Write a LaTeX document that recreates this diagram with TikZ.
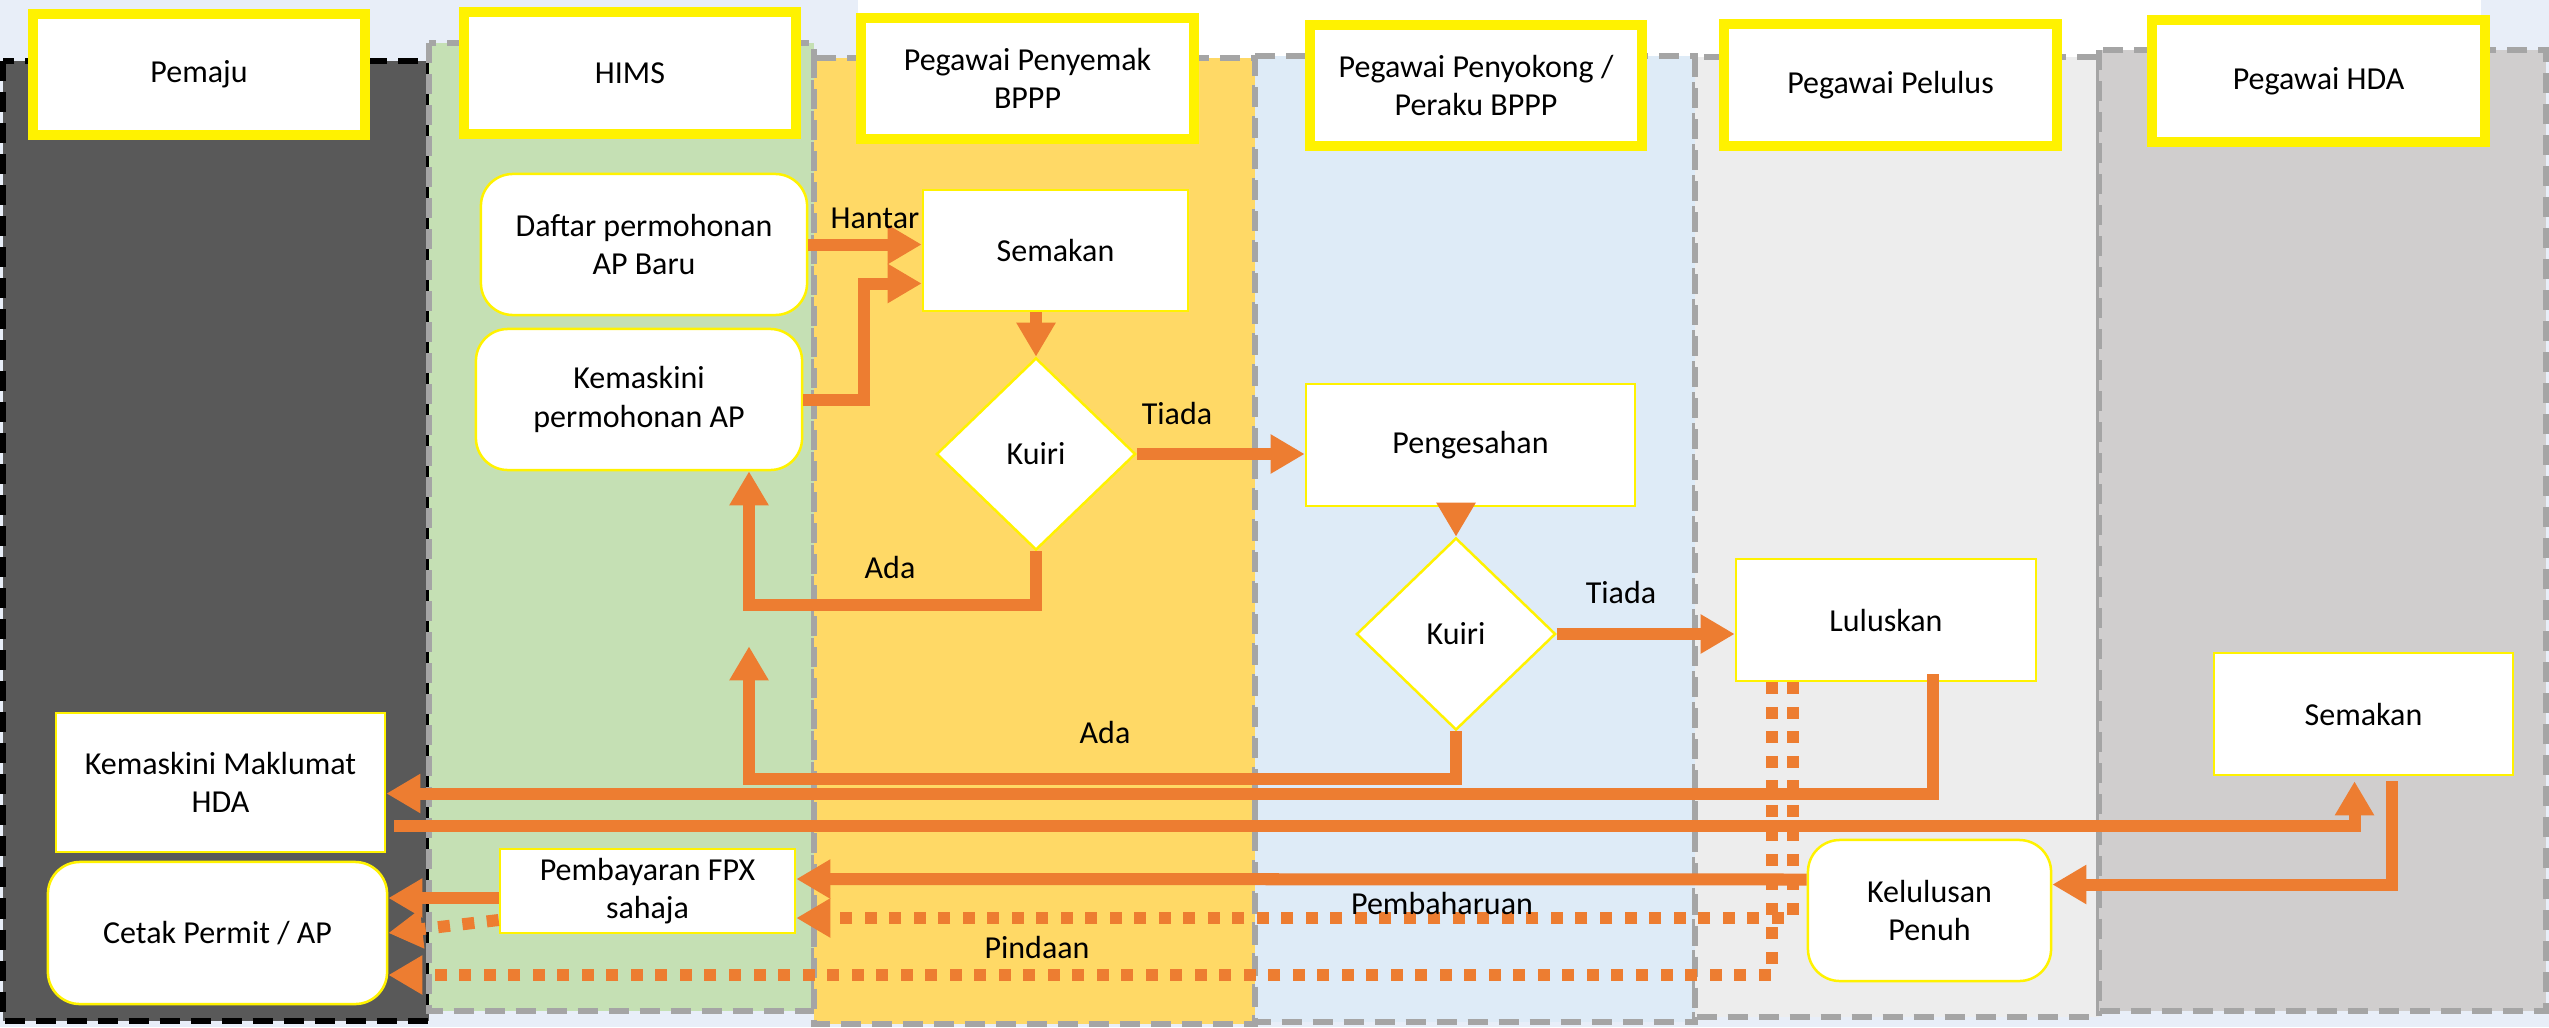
\documentclass[tikz,border=0pt]{standalone}
\usepackage{fontspec}
\setmainfont{Carlito}
\usetikzlibrary{shapes.geometric,arrows.meta,calc}

\definecolor{bgblue}{HTML}{E8EEF8}
\definecolor{lanegrey}{HTML}{A5A5A5}
\definecolor{pemajufill}{HTML}{595959}
\definecolor{himsfill}{HTML}{C5E0B4}
\definecolor{penyemakfill}{HTML}{FFD966}
\definecolor{penyokongfill}{HTML}{DEEBF7}
\definecolor{pelulusfill}{HTML}{EDEDED}
\definecolor{hdafill}{HTML}{D0CECE}
\definecolor{flowline}{HTML}{ED7D31}

\tikzset{
	lane/.style={draw=lanegrey,line width=0.06cm,dash pattern=on 0.2cm off 0.11cm},
	headbox/.style={draw=yellow,line width=0.1cm,fill=white,align=center,
		minimum width=3.32cm,minimum height=1.21cm,inner sep=0pt},
	procbox/.style={draw=yellow,line width=0.025cm,fill=white,align=center,inner sep=0pt},
	roundbox/.style={procbox,rounded corners=0.32cm},
	kuiribox/.style={procbox,diamond,minimum width=1.99cm,minimum height=1.92cm},
	flow/.style={draw=flowline,line width=0.12cm,-{Triangle[length=0.34cm,width=0.37cm]}},
	flowdot/.style={flow,dash pattern=on 0.12cm off 0.125cm}
}

\begin{document}
\begin{tikzpicture}[x=0.01cm,y=-0.01cm,font=\fontsize{9.1}{11}\selectfont]
		\useasboundingbox (0,0) rectangle (2549,1027);
		\fill[bgblue] (0,0) rectangle (2549,1027);
		\fill[white] (858,0) rectangle (2481,60);

		% lanes
		\filldraw[lane,draw=black,fill=pemajufill] (3,61) rectangle (429,1021);
		\filldraw[lane,fill=himsfill] (429,43) rectangle (814,1011);
		\filldraw[lane,fill=penyemakfill] (814,58) rectangle (1255,1024);
		\filldraw[lane,fill=penyokongfill] (1255,56) rectangle (1695,1022);
		\filldraw[lane,fill=pelulusfill] (1695,57) rectangle (2099,1017);
		\filldraw[lane,fill=hdafill] (2099,50) rectangle (2546,1011);

		\node[headbox] (hPemaju) at (199,74.5) {Pemaju};
		\node[headbox] (hHims) at (630,73) {HIMS};
		\node[headbox] (hPenyemak) at (1027.5,78.5) {Pegawai Penyemak\\BPPP};
		\node[headbox] (hPenyokong) at (1476,85.5) {Pegawai Penyokong /\\Peraku BPPP};
		\node[headbox] (hPelulus) at (1890.5,85) {Pegawai Pelulus};
		\node[headbox] (hHda) at (2318.5,81) {Pegawai HDA};

		% steps
		\node[roundbox,minimum width=3.26cm,minimum height=1.41cm] (daftar) at (644,244.5) {Daftar permohonan\\AP Baru};
		\node[roundbox,minimum width=3.26cm,minimum height=1.41cm] (kemaskini) at (639,399.5) {Kemaskini\\permohonan AP};
		\node[procbox,minimum width=2.65cm,minimum height=1.21cm] (semakan) at (1055.5,250.5) {Semakan};
		\node[kuiribox] (kuiri1) at (1036,454) {Kuiri};
		\node[procbox,minimum width=3.29cm,minimum height=1.22cm] (pengesahan) at (1470.5,445) {Pengesahan};
		\node[kuiribox] (kuiri2) at (1456,634) {Kuiri};
		\node[procbox,minimum width=3cm,minimum height=1.22cm] (luluskan) at (1886,620) {Luluskan};
		\node[procbox,minimum width=2.99cm,minimum height=1.22cm] (semakanHda) at (2363.5,714) {Semakan};
		\node[roundbox,minimum width=2.43cm,minimum height=1.41cm] (kelulusan) at (1929.5,910.5) {Kelulusan\\Penuh};
		\node[procbox,minimum width=3.29cm,minimum height=1.39cm] (maklumat) at (220.5,782.5) {Kemaskini Maklumat\\HDA};
		\node[roundbox,minimum width=3.39cm,minimum height=1.42cm] (cetak) at (217.5,933) {Cetak Permit / AP};
		\node[procbox,minimum width=2.95cm,minimum height=0.84cm] (fpx) at (647.5,891) {Pembayaran FPX\\sahaja};

		% flow
		\draw[flow] (daftar.east) -- (daftar.east -| semakan.west);
		\draw[flow] (kemaskini.east) -- ++(61,0) |- ($(semakan.west)+(0,33)$);
		\draw[flow] (semakan.south -| kuiri1.north) -- (kuiri1.north);
		\draw[flow] (kuiri1.east) -- (kuiri1.east -| pengesahan.west);
		\draw[flow] (kuiri1.south) -- ++(0,54) -| ($(kemaskini.south)+(110,0)$);
		\draw[flow] (kuiri2.south) -- ++(0,48) -| ($(kemaskini.south)+(110,175)$);
		\draw[flow] (pengesahan.south -| kuiri2.north) -- (kuiri2.north);
		\draw[flow] (kuiri2.east) -- (kuiri2.east -| luluskan.west);
		\draw[flow] ($(luluskan.south)+(47,-8)$) |- ($(maklumat.east)+(0,11)$);
		\draw[flow] ($(maklumat.east)+(8,43)$) -| ($(semakanHda.south)+(-9,5)$);
		\draw[flow] ($(semakanHda.south)+(28,5)$) |- ($(kelulusan.east)+(0,-26)$);
		\draw[flow] ($(kelulusan.west)+(0,-31)$) -- ($(fpx.east)+(0,-12)$);
		\draw[flow] ($(fpx.west)+(0,7)$) -- ($(cetak.east)+(0,-35)$);
		\draw[flowdot] ($(fpx.west)+(0,29)$) -- (cetak.east);
		\draw[flowdot] ($(luluskan.south)+(-93,0)$) |- ($(fpx.east)+(0,27)$);
		\draw[flowdot] ($(luluskan.south)+(-114,0)$) |- ($(cetak.east)+(0,42)$);

		\node (lblHantar) at (875,218) {Hantar};
		\node (lblTiada1) at (1177,413) {Tiada};
		\node (lblAda1) at (890,567) {Ada};
		\node (lblAda2) at (1105,732) {Ada};
		\node (lblTiada2) at (1621,592) {Tiada};
		\node (lblPembaharuan) at (1442,903) {Pembaharuan};
		\node (lblPindaan) at (1037,947) {Pindaan};
	\end{tikzpicture}
\end{document}
